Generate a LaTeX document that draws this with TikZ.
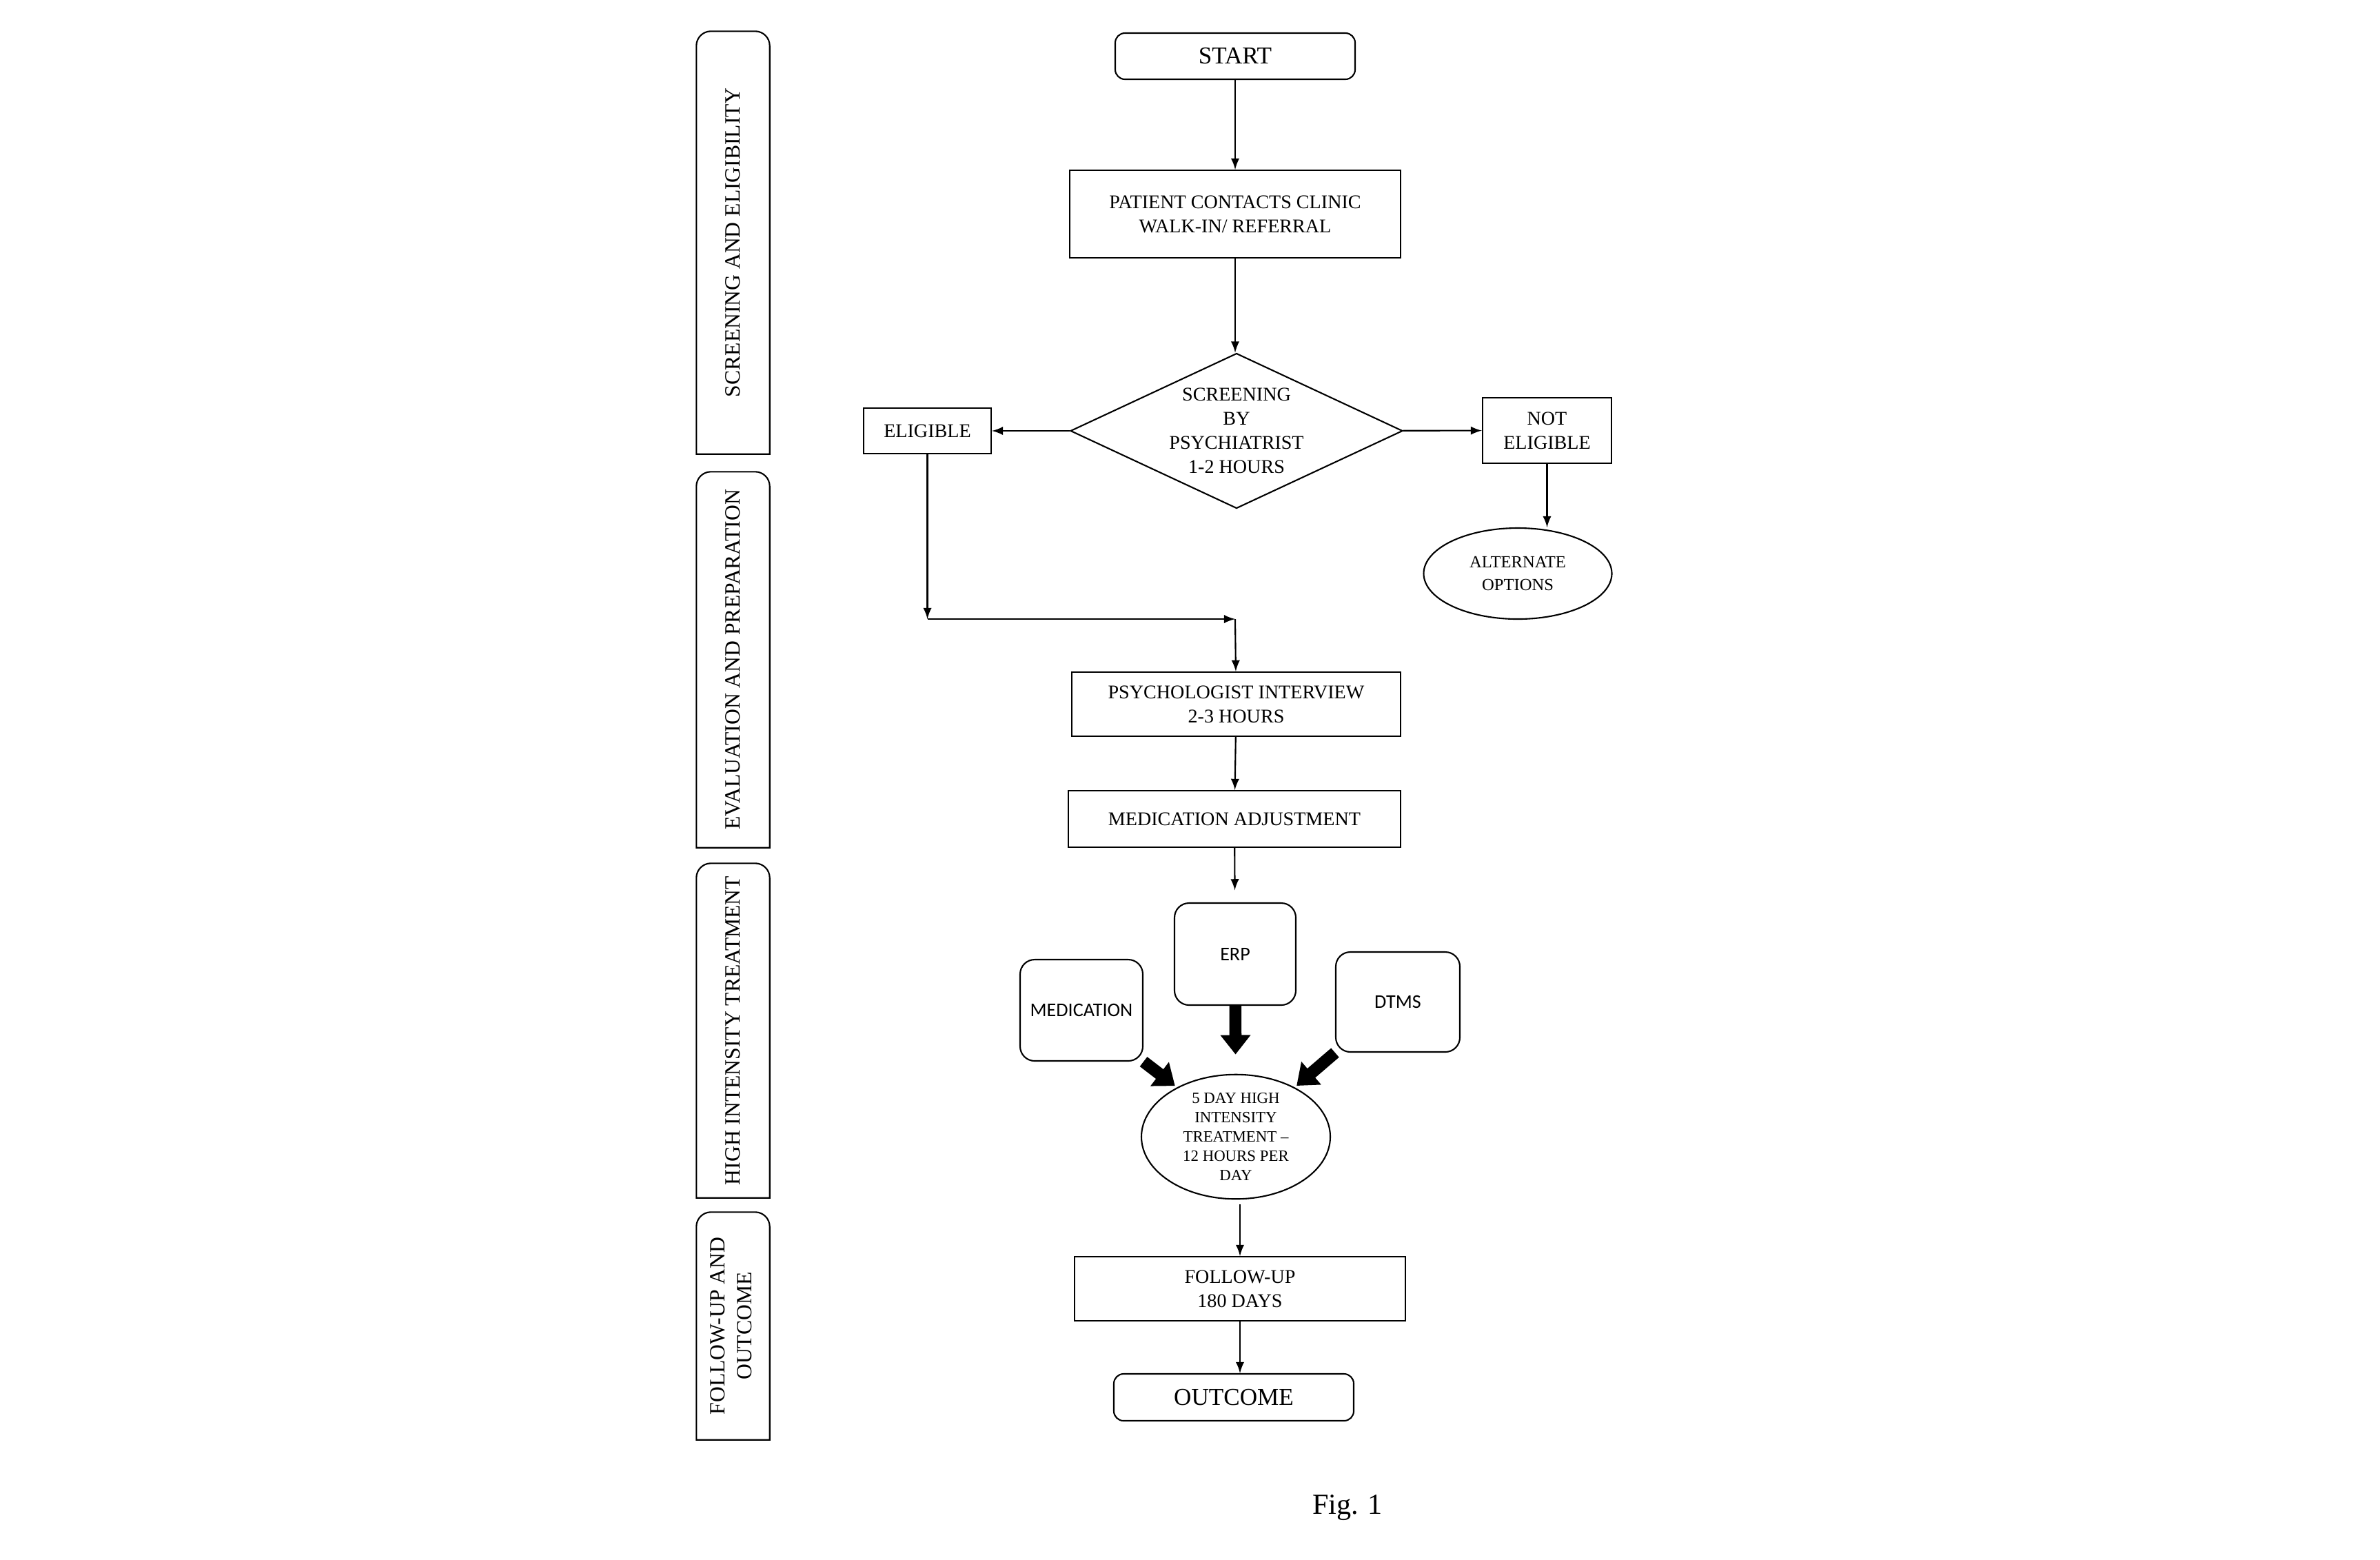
\documentclass[tikz,border=0pt]{standalone}
\usepackage{fontspec}
\setmainfont{Liberation Serif}
\newfontfamily\calibri{Carlito}
\usepackage{graphicx}
\usetikzlibrary{shapes.geometric,arrows.meta}
\tikzset{
  >=latex,
}
\tikzstyle{every node}=[font=\fontsize{8}{10}\selectfont]
\tikzstyle{proc}=[draw,line width=0.6pt,align=center,inner sep=2pt]
\tikzstyle{term}=[proc,rounded corners=4pt,minimum width=3.48cm,font=\fontsize{10}{12}\selectfont]
\tikzstyle{decision}=[draw,diamond,aspect=2.1,line width=0.6pt,align=center,inner sep=0pt,minimum width=4.82cm,minimum height=2.25cm]
\tikzstyle{oval}=[draw,ellipse,line width=0.6pt,align=center,inner sep=0pt]
\tikzstyle{choice}=[draw,rounded corners=6pt,line width=0.6pt,minimum width=1.78cm,minimum height=1.47cm,font=\calibri\fontsize{8}{10}\selectfont]
\tikzstyle{lane}=[minimum width=1.05cm,inner sep=0pt,font=\fontsize{9}{11}\selectfont]
\tikzstyle{flow}=[->,line width=0.6pt]
\tikzstyle{fat}=[-{Triangle[length=8pt,width=12pt]},line width=5pt]

\begin{document}
\begin{tikzpicture}
    \useasboundingbox (0,0) rectangle (34.53,-22.62);
    \node[lane,minimum height=6.12cm] (lane1) at (10.635,-3.52) {\rotatebox{90}{SCREENING AND ELIGIBILITY}};
    \node[lane,minimum height=5.44cm] (lane2) at (10.635,-9.57) {\rotatebox{90}{EVALUATION AND PREPARATION}};
    \node[lane,minimum height=4.84cm] (lane3) at (10.635,-14.95) {\rotatebox{90}{HIGH INTENSITY TREATMENT}};
    \node[lane,minimum height=3.29cm] (lane4) at (10.635,-19.235) {\rotatebox{90}{\begin{tabular}{@{}c@{}}FOLLOW-UP AND\\OUTCOME\end{tabular}}};
    \foreach \n in {lane1,lane2,lane3,lane4}
      \draw[line width=0.6pt] (\n.south west) [rounded corners=6pt] -- (\n.north west) -- (\n.north east) [sharp corners] -- (\n.south east) -- cycle;

    \node[term,minimum height=0.67cm] (start) at (17.92,-0.815) {START};
    \node[proc,minimum width=4.80cm,minimum height=1.27cm] (patient) at (17.92,-3.105) {PATIENT CONTACTS CLINIC\\WALK-IN/ REFERRAL};
    \node[decision] (screen) at (17.94,-6.25) {SCREENING\\BY\\PSYCHIATRIST\\1-2 HOURS};
    \node[proc,minimum width=1.85cm,minimum height=0.66cm] (elig) at (13.455,-6.25) {ELIGIBLE};
    \node[proc,minimum width=1.87cm,minimum height=0.95cm] (notelig) at (22.445,-6.245) {NOT\\ELIGIBLE};
    \node[oval,minimum width=2.73cm,minimum height=1.32cm,font=\fontsize{7}{9.5}\selectfont] (alt) at (22.02,-8.32) {ALTERNATE\\OPTIONS};
    \coordinate (corner) at (13.455,-8.98);
    \coordinate (junc) at (17.92,-8.98);
    \node[proc,minimum width=4.77cm,minimum height=0.93cm] (psych) at (17.935,-10.215) {PSYCHOLOGIST INTERVIEW\\2-3 HOURS};
    \node[proc,minimum width=4.82cm,minimum height=0.82cm] (medadj) at (17.91,-11.88) {MEDICATION ADJUSTMENT};
    \node[choice,minimum width=1.76cm,minimum height=1.48cm] (erp) at (17.92,-13.84) {ERP};
    \node[choice] (meds) at (15.69,-14.655) {MEDICATION};
    \node[choice,minimum width=1.80cm,minimum height=1.45cm] (dtms) at (20.28,-14.535) {DTMS};
    \node[oval,minimum width=2.74cm,minimum height=1.76cm,font=\fontsize{6.5}{8}\selectfont] (hit) at (17.93,-16.49) {5 DAY HIGH\\INTENSITY\\TREATMENT --\\12 HOURS PER\\DAY};
    \node[proc,minimum width=4.80cm,minimum height=0.93cm] (follow) at (17.99,-18.695) {FOLLOW-UP\\180 DAYS};
    \node[term,minimum height=0.68cm] (outcome) at (17.90,-20.27) {OUTCOME};
    \node[font=\fontsize{12}{14}\selectfont] (figlabel) at (19.55,-21.87) {Fig. 1};

    \draw[flow] (start) -- (patient);
    \draw[flow] (patient.south) -- (patient.south |- screen.north);
    \draw[flow] (screen) -- (elig);
    \draw[flow] (screen) -- (notelig);
    \draw[flow] (notelig.south) -- (notelig.south |- alt.north);
    \draw[flow] (elig) -- (corner);
    \draw[flow] (corner) -- (junc);
    \draw[flow] (junc) -- (psych);
    \draw[flow] (psych) -- (medadj);
    \draw[flow,shorten >=5pt] (medadj) -- (erp);
    \draw[fat,shorten >=8pt] (erp) -- (hit);
    \draw[fat,shorten >=1pt] (meds.south east) -- (hit.140);
    \draw[fat,shorten >=1pt] (dtms.south west) -- (hit.40);
    \draw[flow,shorten <=2pt] (follow.north |- hit.south) -- (follow.north);
    \draw[flow] (follow.south) -- (follow.south |- outcome.north);
  \end{tikzpicture}
\end{document}
